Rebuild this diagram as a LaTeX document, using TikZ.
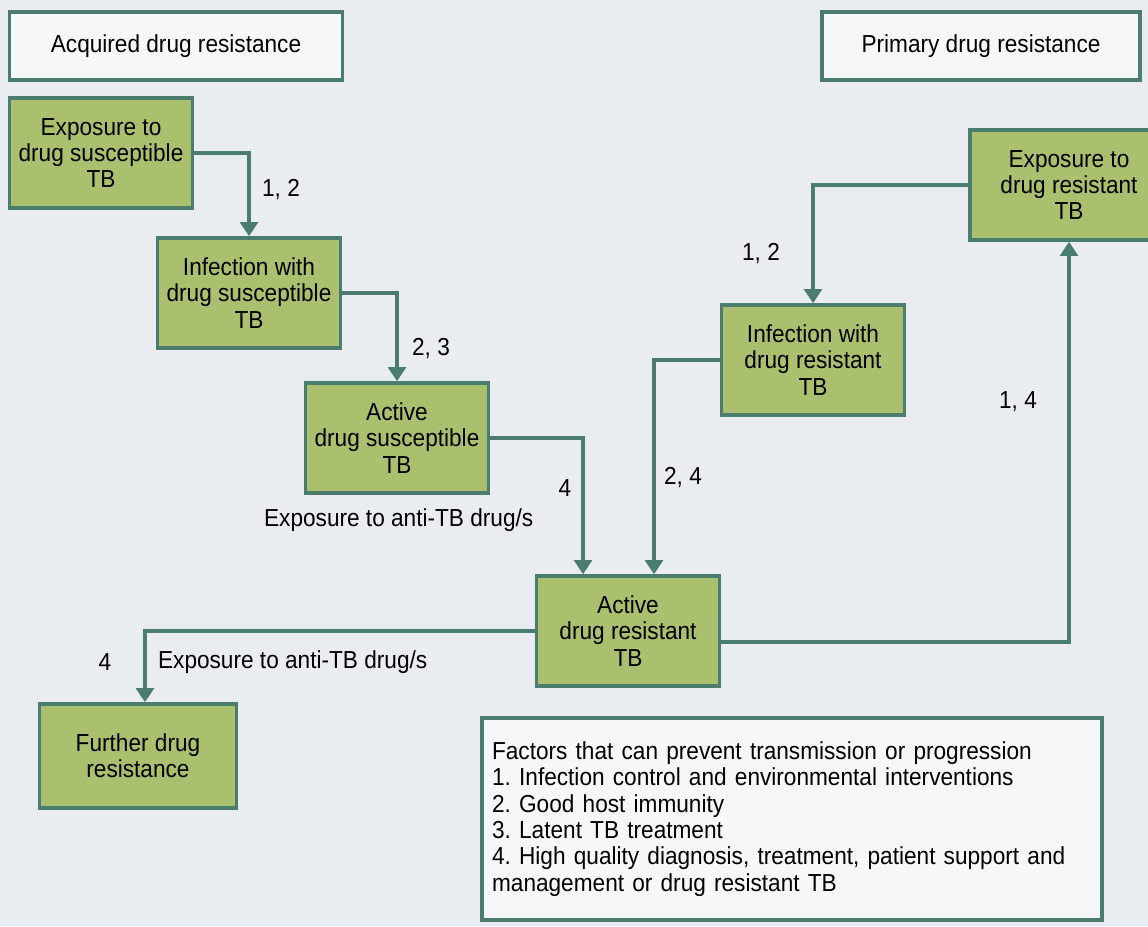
\documentclass[tikz,border=0pt]{standalone}
\usepackage{fontspec}
\setmainfont{Liberation Sans}[FakeStretch=0.92]
\frenchspacing
\usetikzlibrary{arrows.meta}
\definecolor{bgcol}{HTML}{E9ECF0}
\definecolor{boxgreen}{HTML}{AAC06E}
\definecolor{edgecol}{HTML}{4B7D6E}
\begin{document}
\begin{tikzpicture}[
        x=0.02cm, y=-0.02cm,
        font=\fontsize{14}{15}\selectfont,
        stagebox/.style = {
            draw=edgecol, line width=2pt, fill=boxgreen,
            align=center, inner sep=2pt,
            minimum width=3.66cm, minimum height=2.2cm
        },
        headbox/.style = {
            draw=edgecol, line width=2pt, fill=white!60!bgcol,
            minimum height=1.36cm
        },
        flow/.style = {
            draw=edgecol, line width=2pt,
            -{Triangle[width=10pt,length=8pt]}
        },
        lbl/.style = {inner sep=1pt}
    ]
        \path[use as bounding box, fill=bgcol] (0,0) rectangle (1148,926);

        % headings
        \node[headbox, minimum width=6.66cm] (ACQ) at (176,46) {Acquired drug resistance};
        \node[headbox, minimum width=6.36cm] (PRI) at (981,46) {Primary drug resistance};

        % acquired route
        \node[stagebox] (ES) at (101,153) {Exposure to\\drug susceptible\\TB};
        \node[stagebox] (IS) at (249,293) {Infection with\\drug susceptible\\TB};
        \node[stagebox] (AS) at (397,438) {Active\\drug susceptible\\TB};

        % primary route
        \node[stagebox, minimum width=3.96cm] (ER) at (1069,185) {Exposure to\\drug resistant\\TB};
        \node[stagebox] (IR) at (813,360) {Infection with\\drug resistant\\TB};
        \node[stagebox] (AR) at (628,631) {Active\\drug resistant\\TB};
        \node[stagebox, minimum width=3.94cm, minimum height=2.08cm] (FD) at (138,756) {Further drug\\resistance};

        % factors
        \node[headbox, minimum width=12.4cm, minimum height=4.04cm,
              text width=12.0cm, align=left] (FAC) at (792,819)
            {Factors that can prevent transmission or progression\\
             1. Infection control and environmental interventions\\
             2. Good host immunity\\
             3. Latent TB treatment\\
             4. High quality diagnosis, treatment, patient support and\\
             management or drug resistant TB};

        % connectors
        \draw[flow] (ES.east) -| (IS.north);
        \draw[flow] (IS.east) -| (AS.north);
        \draw[flow] (AS.east) -| ([xshift=-0.9cm]AR.north);
        \draw[flow] (IR.west) -| ([xshift=0.52cm]AR.north);
        \draw[flow] (ER.west) -| (IR.north);
        \draw[flow] ([yshift=-0.22cm]AR.east) -| (ER.south);
        \draw[flow] (AR.west) -| ([xshift=0.14cm]FD.north);

        % labels
        \node[lbl] (L1) at (281,189) {1, 2};
        \node[lbl] (L2) at (431,348) {2, 3};
        \node[lbl] (L3) at (565,488) {4};
        \node[lbl] (L4) at (683,477) {2, 4};
        \node[lbl] (L5) at (761,253) {1, 2};
        \node[lbl] (L6) at (1018,402) {1, 4};
        \node[lbl] (L7) at (105,662) {4};
        \node[lbl, anchor=west] (X1) at (262,520) {Exposure to anti-TB drug/s};
        \node[lbl, anchor=west] (X2) at (156,662) {Exposure to anti-TB drug/s};
    \end{tikzpicture}
\end{document}
